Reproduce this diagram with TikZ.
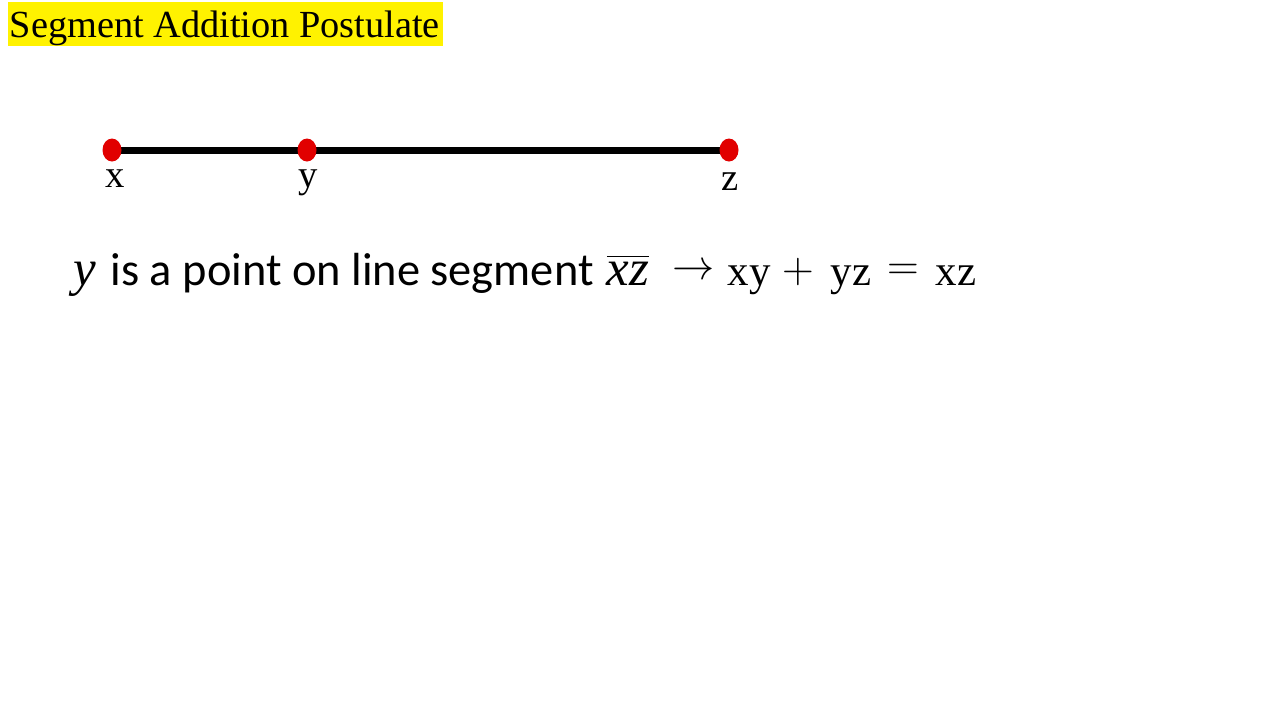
\documentclass[tikz,border=0pt]{standalone}
\usepackage{fontspec}
\setmainfont{Liberation Serif}
\newfontfamily\calfont{Carlito}
\newfontfamily\camfont{Liberation Serif}
\begin{document}
\begin{tikzpicture}[x=0.01cm,y=-0.01cm,
  dotmark/.style={fill={rgb,255:red,225;green,0;blue,0}},
  ptlabel/.style={font=\fontsize{11}{12}\selectfont,inner sep=0pt,anchor=base},
  eqpart/.style={font=\fontsize{12.2}{14}\selectfont\camfont,inner sep=0pt,anchor=base},
  eqital/.style={font=\fontsize{14.5}{16}\selectfont\rmfamily\itshape,inner sep=0pt,anchor=base},
  eqsym/.style={inner sep=0pt}]
\useasboundingbox[fill=white] (0,0) rectangle (1280,720);
\fill[yellow] (8,2) rectangle (443,46);
\node[inner sep=0pt,anchor=base west] (title) at (9,37) {\fontsize{10.9}{12}\selectfont Segment Addition Postulate};
\coordinate (px) at (112,150);
\coordinate (py) at (307,150);
\coordinate (pz) at (729,150);
\draw[line width=2pt] (px) -- (py) -- (pz);
\fill[dotmark] (px) ellipse (9.5 and 11.5) (py) ellipse (9.5 and 11.5) (pz) ellipse (9.5 and 11.5);
\node[ptlabel] (lx) at (115,187) {x};
\node[ptlabel] (ly) at (308,187) {y};
\node[ptlabel] (lz) at (730,190) {z};
\node[eqital] (ey) at (85,285) {y};
\node[anchor=base west,inner sep=0pt] (eq) at (110,285) {\fontsize{13.2}{15}\selectfont\calfont is a point on line segment};
\node[eqital] (exz) at (628,285) {$\overline{\hbox{\rmfamily\itshape xz}}$};
\node[eqsym] (arr) at (694,272) {\fontsize{11.5}{12}\selectfont$\rightarrow$};
\node[eqpart] (exy) at (749,285) {xy};
\node[eqsym] (eplus) at (798,272) {\fontsize{12}{12}\selectfont$+$};
\node[eqpart] (eyz) at (851,285) {yz};
\node[eqsym] (eeq) at (903,272) {\fontsize{12}{12}\selectfont$=$};
\node[eqpart] (exz2) at (956,285) {xz};
\end{tikzpicture}
\end{document}
